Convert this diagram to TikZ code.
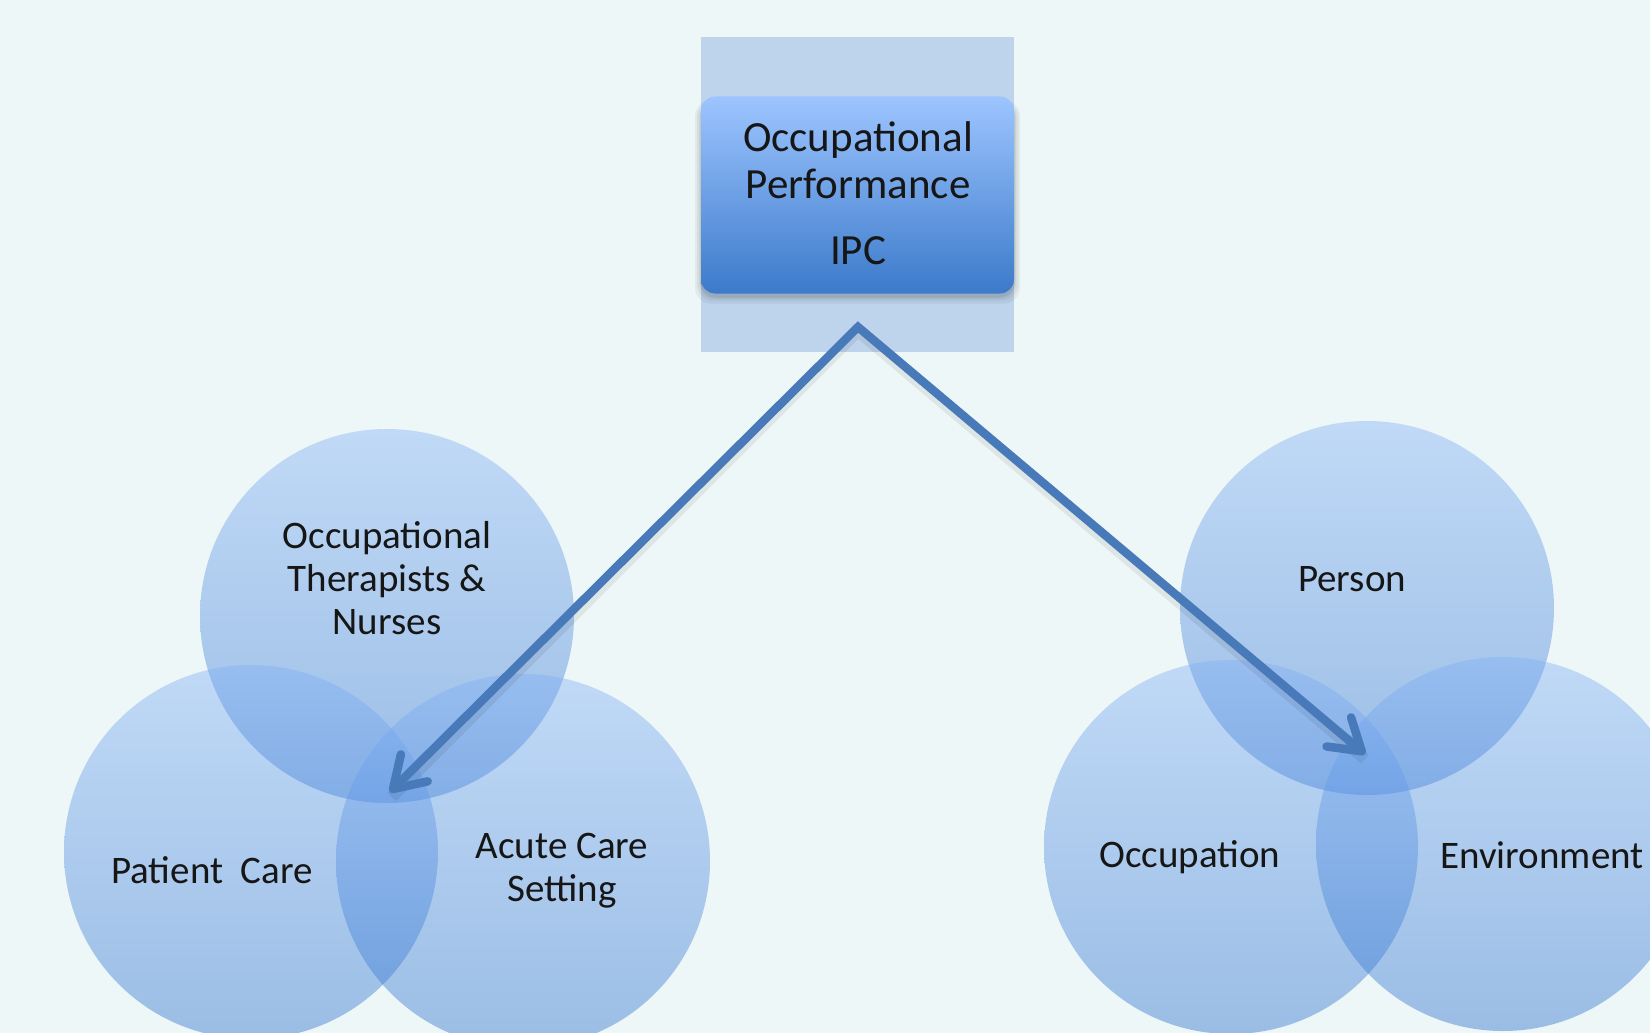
\documentclass[tikz,border=0pt]{standalone}
\usepackage{fontspec}
\setmainfont{Carlito}
\usetikzlibrary{arrows.meta}
\definecolor{bgc}{RGB}{238,247,247}
\definecolor{haloc}{RGB}{190,212,236}
\definecolor{boxtop}{RGB}{157,197,255}
\definecolor{boxbot}{RGB}{60,122,202}
\definecolor{ctop}{RGB}{130,177,247}
\definecolor{cbot}{RGB}{40,110,205}
\definecolor{arrowc}{RGB}{72,122,186}
\definecolor{ink}{RGB}{22,22,22}
\begin{document}
\begin{tikzpicture}[x=1pt,y=-1pt,
  venn/.style={circle, minimum size=374pt, inner sep=0pt, top color=ctop, bottom color=cbot, fill opacity=0.42, draw=none},
  lbl/.style={text=ink, font=\fontsize{39}{43}\selectfont, align=center, inner sep=0pt},
  halobox/.style={rectangle, fill=haloc, minimum width=313pt, minimum height=315pt, inner sep=0pt},
  mainbox/.style={rectangle, rounded corners=14pt, minimum width=313pt, minimum height=197pt, inner sep=0pt,
    top color=boxtop, bottom color=boxbot},
  softshadow/.style={rectangle, rounded corners=16pt, inner sep=0pt, fill=black, fill opacity=0.05},
  boxtxt/.style={text=ink, font=\fontsize{43}{47}\selectfont, align=center, inner sep=0pt},
  arr/.style={draw=arrowc, line width=8.5pt, line join=miter,
    {Straight Barb[length=30pt, width=38pt, line cap=round, round]}-{Straight Barb[length=30pt, width=38pt, line cap=round, round]}},
  arrshadow/.style={draw=black, draw opacity=0.07, line width=12pt, line join=miter}
]
\useasboundingbox (0,0) rectangle (1650,1033);
\fill[bgc] (0,0) rectangle (1650,1033);
\begin{scope}
\clip (0,0) rectangle (1650,1033);
% left group
\node[venn] (lt) at (387,616) {};
\node[venn] (lbl1) at (251,852) {};
\node[venn] (lbr) at (523,861) {};
% right group
\node[venn] (rt) at (1367,608) {};
\node[venn] (rbl) at (1231,847) {};
\node[venn] (rbr) at (1503,844) {};
\end{scope}
% labels
\node[lbl] (tOT) at (387,578) {Occupational\\Therapists \&\\Nurses};
\node[lbl] (tPC) at (212,870) {Patient~ Care};
\node[lbl] (tAC) at (562,871) {Acute Care\\Setting};
\node[lbl] (tPe) at (1352,579) {Person};
\node[lbl] (tOc) at (1190,857) {Occupation};
\node[lbl] (tEn) at (1542,855) {Environment};
% top box
\node[halobox] (halo) at (857.5,194.5) {};
\node[softshadow, minimum width=325pt, minimum height=203pt] (sh1) at (857.5,202) {};
\node[softshadow, minimum width=321pt, minimum height=199pt] (sh2) at (857.5,201) {};
\node[softshadow, minimum width=317pt, minimum height=197pt] (sh3) at (857.5,200) {};
\node[softshadow, minimum width=315pt, minimum height=197pt] (sh4) at (857.5,199) {};
\node[mainbox] (ipc) at (857.5,195) {};
\node[boxtxt] (ipctxt) at (858,193) {Occupational\\Performance\\[19pt]IPC};
% arrows
\coordinate (apex) at (858,327);
\coordinate (ltip) at (390,792);
\coordinate (rtip) at (1365,754);
\coordinate (apexs) at (858,331);
\coordinate (ltips) at (392,797);
\coordinate (rtips) at (1365,759);
\draw[arrshadow] (ltips) -- (apexs) -- (rtips);
\draw[arr] (ltip) -- (apex) -- (rtip);
\end{tikzpicture}
\end{document}
